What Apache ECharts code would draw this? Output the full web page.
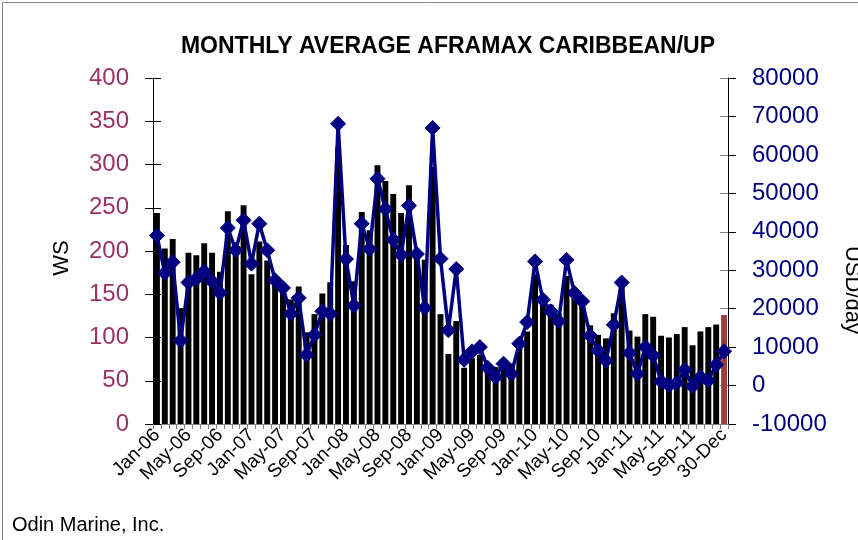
<!DOCTYPE html>
<html>
<head>
<meta charset="utf-8">
<script src="https://cdn.jsdelivr.net/npm/echarts@6/dist/echarts.min.js"></script>
<style>
  html, body { margin: 0; padding: 0; background: #fff; }
  #chart { width: 858px; height: 540px; }
</style>
</head>
<body>
<div id="chart"></div>
<script>
// month labels, Jan-06 .. Dec-11, then the last point "30-Dec"
const months = ['Jan', 'Feb', 'Mar', 'Apr', 'May', 'Jun', 'Jul', 'Aug', 'Sep', 'Oct', 'Nov', 'Dec']
const years = ['06', '07', '08', '09', '10', '11']
const lastLabel = '30-Dec'

// WS (left axis, bars)
const wsValues = [
  244, 203, 214, 134, 198, 195, 209, 198, 176, 246, 210, 253,
  173, 211, 189, 165, 160, 144, 159, 106, 127, 151, 164, 320,
  207, 165, 245, 224, 299, 281, 266, 244, 276, 200, 190, 297,
  127, 81, 119, 65, 76, 80, 70, 66, 66, 70, 94, 107,
  173, 148, 138, 128, 171, 155, 144, 114, 103, 99, 128, 160,
  108, 101, 127, 124, 102, 100, 104, 112, 91, 107, 112, 115,
  126
]

// USD/day (right axis, line)
const usdValues = [
  39000, 29300, 32100, 11700, 26800, 27800, 29700, 27100, 24100, 41000, 35200, 43000,
  31700, 42100, 35200, 27400, 25400, 18700, 22800, 8000, 13200, 19300, 18700, 68100,
  32900, 20800, 42100, 35500, 53800, 45900, 37900, 34000, 46800, 34200, 20200, 67000,
  33000, 14400, 30300, 6700, 8900, 10000, 4600, 2200, 5700, 3100, 10900, 16500,
  32300, 22300, 19300, 16700, 32700, 24100, 21900, 13000, 9100, 6500, 15800, 26800,
  8500, 3100, 10000, 7800, 1100, 0, 700, 4100, -200, 2200, 1300, 5400,
  8900
]

const categories = []
years.forEach(y => months.forEach(m => categories.push(m + '-' + y)))
categories.push(lastLabel)

const font = 'Arial, "Liberation Sans", sans-serif'
const lastIdx = categories.length - 1

const chart = echarts.init(document.getElementById('chart'), null, { renderer: 'canvas' })

const option = {
  animation: false,
  backgroundColor: '#fff',
  grid: { left: 153, right: 130, top: 78, height: 346 },
  graphic: [
    {
      type: 'rect',
      shape: { x: 2.5, y: 2.5, width: 900, height: 600 },
      style: { fill: 'none', stroke: '#888', lineWidth: 1 },
      silent: true
    },
    {
      type: 'text', x: 448, y: 47,
      style: {
        text: 'MONTHLY AVERAGE AFRAMAX CARIBBEAN/UP',
        font: 'bold 23px ' + font, fill: '#000',
        textAlign: 'center', textVerticalAlign: 'middle'
      }
    },
    {
      type: 'text', x: 62, y: 258, rotation: Math.PI / 2,
      style: {
        text: 'WS', font: '22px ' + font, fill: '#000',
        textAlign: 'center', textVerticalAlign: 'middle'
      }
    },
    {
      type: 'text', x: 852, y: 290, rotation: -Math.PI / 2,
      style: {
        text: 'USD/day', font: '22px ' + font, fill: '#000',
        textAlign: 'center', textVerticalAlign: 'middle'
      }
    },
    {
      type: 'text', x: 12, y: 525,
      style: {
        text: 'Odin Marine, Inc.', font: '20px ' + font, fill: '#000',
        textAlign: 'left', textVerticalAlign: 'middle'
      }
    }
  ],
  xAxis: {
    type: 'category',
    data: categories,
    boundaryGap: true,
    axisLine: { lineStyle: { color: '#808080', width: 1 } },
    axisTick: { show: true, interval: 0, length: 5, lineStyle: { color: '#808080' } },
    axisLabel: {
      interval: 3, rotate: 45, margin: 8,
      color: '#000', fontSize: 19, fontFamily: font
    },
    splitLine: { show: false }
  },
  yAxis: [
    {
      type: 'value', min: 0, max: 400, interval: 50, position: 'left',
      axisLine: { show: true, lineStyle: { color: '#000', width: 1 } },
      axisTick: { show: true, length: 8, lineStyle: { color: '#000' } },
      axisLabel: { color: '#993366', fontSize: 24, fontFamily: font, margin: 24 },
      splitLine: { show: false }
    },
    {
      type: 'value', min: -10000, max: 80000, interval: 10000, position: 'right',
      axisLine: { show: true, lineStyle: { color: '#000', width: 1 } },
      axisTick: { show: true, length: 8, lineStyle: { color: '#000' } },
      axisLabel: {
        color: '#000080', fontSize: 24, fontFamily: font, margin: 24,
        formatter: v => String(v)
      },
      splitLine: { show: false }
    },
    // inner halves of the cross tick marks
    {
      type: 'value', min: 0, max: 400, interval: 50, position: 'left',
      axisLine: { show: false },
      axisTick: { show: true, inside: true, length: 8, lineStyle: { color: '#000' } },
      axisLabel: { show: false },
      splitLine: { show: false }
    },
    {
      type: 'value', min: -10000, max: 80000, interval: 10000, position: 'right',
      axisLine: { show: false },
      axisTick: { show: true, inside: true, length: 8, lineStyle: { color: '#808080' } },
      axisLabel: { show: false },
      splitLine: { show: false }
    }
  ],
  series: [
    {
      name: 'WS',
      type: 'bar',
      yAxisIndex: 0,
      barCategoryGap: '25%',
      data: wsValues.map((v, i) => ({
        value: v,
        itemStyle: { color: i === lastIdx ? '#9e3b3b' : '#000' }
      }))
    },
    {
      name: 'USD/day',
      type: 'line',
      yAxisIndex: 1,
      data: usdValues,
      symbol: 'diamond',
      symbolSize: 15,
      showAllSymbol: true,
      lineStyle: { color: '#000080', width: 3.5 },
      itemStyle: { color: '#000080', borderColor: '#000080', borderWidth: 1, opacity: 1 },
      emphasis: { disabled: true },
      z: 3
    }
  ]
}

chart.setOption(option)
</script>
</body>
</html>
